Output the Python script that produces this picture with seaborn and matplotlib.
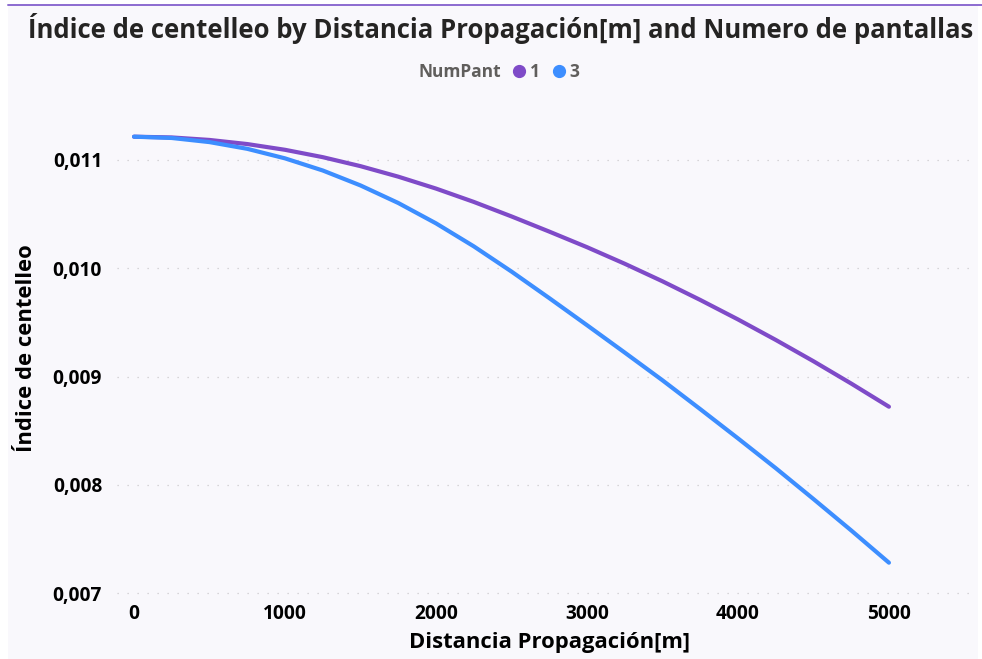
import matplotlib
matplotlib.use("Agg")
import matplotlib.pyplot as plt
from matplotlib.patches import Rectangle
from matplotlib.lines import Line2D
from matplotlib.ticker import FuncFormatter
import pandas as pd
import seaborn as sns

# Propagation distance [m]
distancia = [0, 250, 500, 750, 1000, 1250, 1500, 1750, 2000, 2250, 2500,
             2750, 3000, 3250, 3500, 3750, 4000, 4250, 4500, 4750, 5000]

# Scintillation index, one screen
indice_1 = [0.011215, 0.011208, 0.011185, 0.011147, 0.011094, 0.011026,
            0.010943, 0.010846, 0.010736, 0.010613, 0.010479, 0.010339,
            0.010195, 0.010042, 0.009880, 0.009708, 0.009528, 0.009339,
            0.009142, 0.008936, 0.008722]

# Scintillation index, three screens
indice_3 = [0.011215, 0.011203, 0.011165, 0.011103, 0.011015, 0.010903,
            0.010765, 0.010603, 0.010415, 0.010203, 0.009970, 0.009725,
            0.009475, 0.009222, 0.008966, 0.008700, 0.008430, 0.008155,
            0.007870, 0.007580, 0.007282]

num_pant = ["1", "3"]
colores = {"1": "#7F4BC8", "3": "#3D8EFF"}

x_ticks = [0, 1000, 2000, 3000, 4000, 5000]
y_ticks = [0.007, 0.008, 0.009, 0.010, 0.011]

df = pd.DataFrame({
    "Distancia Propagación[m]": distancia * 2,
    "Índice de centelleo": indice_1 + indice_3,
    "NumPant": [num_pant[0]] * len(distancia) + [num_pant[1]] * len(distancia),
})

sns.set_style("white")
plt.rcParams["font.family"] = ["Open Sans", "DejaVu Sans"]

W, H = 982, 659
fig = plt.figure(figsize=(W / 100, H / 100), dpi=100, facecolor="white")

BG = "#F9F8FC"
fig.patches.append(Rectangle((8 / W, 0), (978 - 8) / W, 1 - 5 / H,
                             transform=fig.transFigure, facecolor=BG,
                             edgecolor="none", zorder=-10))
fig.lines.append(Line2D([8 / W, 1.0], [1 - 5 / H, 1 - 5 / H],
                        transform=fig.transFigure, color="#8C6BD0", lw=1.4,
                        zorder=-5))

ax = fig.add_axes([117.4 / W, 1 - 595.4 / H, (975 - 117.4) / W, (595.4 - 119.9) / H])
ax.set_facecolor(BG)
ax.set_zorder(1)

sns.lineplot(data=df, x="Distancia Propagación[m]", y="Índice de centelleo",
             hue="NumPant", palette=colores, linewidth=3.0, legend=False, ax=ax)
for ln in ax.lines:
    ln.set_solid_capstyle("round")
    ln.set_solid_joinstyle("round")

ax.set_xlim(-110, 5570)
ax.set_ylim(0.00698, 0.01137)
ax.set_xticks(x_ticks)
ax.set_yticks(y_ticks)
ax.yaxis.set_major_formatter(FuncFormatter(lambda v, p: f"{v:.3f}".replace(".", ",")))
ax.tick_params(axis="both", length=0, labelsize=13.8, labelcolor="#000000")
ax.tick_params(axis="y", pad=11)
ax.tick_params(axis="x", pad=6)
for lab in ax.get_xticklabels() + ax.get_yticklabels():
    lab.set_fontweight("bold")

ax.grid(axis="y", color="#CCCACD", linestyle=(0, (1, 7)), linewidth=0.9)
ax.grid(axis="x", visible=False)
for s in ax.spines.values():
    s.set_visible(False)

ax.set_xlabel("Distancia Propagación[m]", fontsize=15.8, fontweight="bold", color="#000000")
ax.set_ylabel("Índice de centelleo", fontsize=15.8, fontweight="bold", color="#000000")
ax.xaxis.set_label_coords((549 - 117.4) / 857.6, (595.4 - 632) / 475.5)
ax.yaxis.set_label_coords((37 - 117.4) / 857.6, (595.4 - 348) / 475.5)

fig.text(501 / W, 1 - 28 / H,
         "Índice de centelleo by Distancia Propagación[m] and Numero de pantallas",
         ha="center", va="center", fontsize=18.5, fontweight="bold", color="#252423")

fig.text(501 / W, 1 - 72 / H, "NumPant", ha="right", va="center",
         fontsize=12.5, fontweight="bold", color="#605E5C")
handles = [Line2D([], [], marker="o", linestyle="none", markersize=8.5,
                  markerfacecolor=colores[k], markeredgecolor=colores[k]) for k in num_pant]
leg = fig.legend(handles, num_pant, loc="center left", bbox_to_anchor=(513 / W, 1 - 72 / H),
                 ncol=2, frameon=False, handlelength=0.7, handletextpad=0.25,
                 columnspacing=0.8, borderpad=0, borderaxespad=0,
                 prop={"size": 12.5, "weight": "bold"})
for t in leg.get_texts():
    t.set_color("#605E5C")

fig.savefig("out.png", dpi=100, facecolor=fig.get_facecolor())
